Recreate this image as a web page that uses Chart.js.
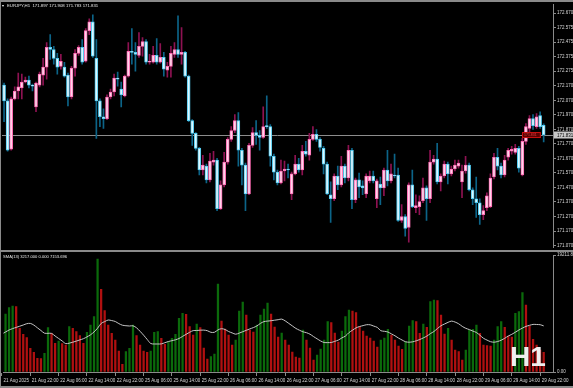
<!DOCTYPE html>
<html>
<head>
<meta charset="utf-8">
<script src="https://cdn.jsdelivr.net/npm/chart.js@4.4.1/dist/chart.umd.min.js"></script>
<style>
  html, body { margin: 0; padding: 0; background: #000; }
  #wrap { position: relative; width: 573px; height: 388px; overflow: hidden; background: #000; }
  #priceChart { position: absolute; left: 0; top: 0; }
  #volChart { position: absolute; left: 0; top: 251px; }
  .line { position: absolute; background: #8a8a8a; }
  .txt { position: absolute; font-family: 'Liberation Sans', Arial, sans-serif; color: #e6e6e6; white-space: nowrap; line-height: 1; }
</style>
</head>
<body>
<div id="wrap">
  <canvas id="priceChart" width="573" height="251"></canvas>
  <canvas id="volChart" width="573" height="137"></canvas>
  <div class="line" style="left:0;top:0;width:573px;height:2px"></div>
  <div class="line" style="left:0;top:0;width:1px;height:388px"></div>
  <div class="line" style="left:0;top:250px;width:573px;height:2px"></div>
  <div class="line" style="left:0;top:386px;width:573px;height:2px"></div>
  <div style="position:absolute;left:2px;top:4.5px;width:0;height:0;border-left:1.5px solid transparent;border-right:1.5px solid transparent;border-top:2.5px solid #fff"></div>
  <div class="txt" style="left:7px;top:3.6px;font-size:4.3px">EURJPY,H1&nbsp;&nbsp;171.897 171.908 171.783 171.831</div>
  <div class="txt" style="left:3px;top:255.3px;font-size:4.1px">SMA(13) 3217.000 0.000 7153.696</div>
  <div class="txt" style="left:510px;top:343px;font-size:28px;font-weight:bold;color:#eeeeee">H1</div>
</div>
<script>
// EURJPY H1, 21 Aug 2025 14:00 .. 29 Aug 2025 23:00
const open = [
  172.209, 172.175, 172.066, 171.733, 172.080, 172.134, 172.155, 172.196, 172.209, 172.175,
  172.025, 172.175, 172.243, 172.298, 172.434, 172.420, 172.359, 172.304, 172.298, 172.243,
  172.093, 172.291, 172.393, 172.434, 172.339, 172.550, 172.611, 172.359, 172.066, 171.957,
  171.944, 172.093, 172.127, 172.223, 172.148, 172.100, 172.236, 172.407, 172.400, 172.379,
  172.441, 172.475, 172.332, 172.332, 172.379, 172.332, 172.366, 172.277, 172.304, 172.386,
  172.420, 172.386, 172.400, 172.236, 171.930, 171.842, 171.739, 171.590, 171.617, 171.522,
  171.644, 171.658, 171.324, 171.488, 171.644, 171.801, 171.862, 171.930, 171.726, 171.624,
  171.426, 171.760, 171.848, 171.828, 171.814, 171.896, 171.889, 171.685, 171.576, 171.501,
  171.583, 171.597, 171.426, 171.563, 171.631, 171.590, 171.719, 171.692, 171.801, 171.835,
  171.801, 171.739, 171.631, 171.420, 171.392, 171.549, 171.488, 171.617, 171.535, 171.726,
  171.386, 171.522, 171.481, 171.426, 171.515, 171.549, 171.392, 171.494, 171.467, 171.590,
  171.515, 171.556, 171.556, 171.243, 171.270, 171.195, 171.488, 171.331, 171.338, 171.379,
  171.467, 171.392, 171.644, 171.665, 171.508, 171.549, 171.631, 171.563, 171.597, 171.617,
  171.508, 171.583, 171.624, 171.454, 171.392, 171.365, 171.283, 171.331, 171.338, 171.542,
  171.678, 171.617, 171.556, 171.678, 171.719, 171.712, 171.739, 171.556, 171.787, 171.876,
  171.944, 171.889, 171.964, 171.897
];
const high = [
  172.345, 172.189, 172.080, 172.093, 172.162, 172.257, 172.250, 172.230, 172.236, 172.182,
  172.196, 172.264, 172.359, 172.468, 172.522, 172.441, 172.393, 172.386, 172.332, 172.257,
  172.304, 172.420, 172.447, 172.488, 172.563, 172.631, 172.658, 172.488, 172.080, 172.012,
  172.107, 172.148, 172.250, 172.264, 172.196, 172.243, 172.468, 172.563, 172.468, 172.536,
  172.502, 172.488, 172.386, 172.441, 172.495, 172.461, 172.400, 172.332, 172.441, 172.468,
  172.652, 172.570, 172.407, 172.243, 171.937, 171.848, 171.746, 171.692, 171.631, 171.705,
  171.719, 171.671, 171.515, 171.712, 171.814, 171.889, 171.971, 171.985, 171.739, 171.637,
  171.774, 171.882, 171.930, 171.862, 172.025, 172.100, 171.903, 171.699, 171.590, 171.658,
  171.651, 171.631, 171.576, 171.692, 171.671, 171.760, 171.787, 171.842, 171.889, 171.869,
  171.814, 171.753, 171.644, 171.508, 171.563, 171.617, 171.685, 171.631, 171.760, 171.739,
  171.535, 171.569, 171.515, 171.563, 171.583, 171.583, 171.528, 171.542, 171.603, 171.726,
  171.631, 171.699, 171.603, 171.352, 171.283, 171.501, 171.590, 171.420, 171.413, 171.535,
  171.481, 171.726, 171.692, 171.774, 171.563, 171.651, 171.644, 171.617, 171.658, 171.658,
  171.624, 171.685, 171.637, 171.467, 171.542, 171.392, 171.345, 171.433, 171.563, 171.705,
  171.739, 171.637, 171.692, 171.739, 171.753, 171.767, 171.753, 171.808, 171.910, 171.964,
  171.971, 171.978, 171.991, 171.908
];
const low = [
  172.148, 171.923, 171.719, 171.726, 172.073, 172.080, 172.080, 172.189, 172.155, 172.134,
  171.991, 172.162, 172.175, 172.216, 172.352, 172.318, 172.250, 172.284, 172.230, 172.032,
  172.080, 172.236, 172.379, 172.318, 172.332, 172.522, 172.366, 171.808, 171.889, 171.876,
  171.937, 172.080, 172.100, 172.168, 172.025, 172.093, 172.230, 172.318, 172.270, 172.366,
  172.373, 172.318, 172.318, 172.325, 172.318, 172.325, 172.236, 172.230, 172.230, 172.366,
  172.366, 172.318, 172.230, 171.923, 171.760, 171.726, 171.556, 171.556, 171.501, 171.508,
  171.624, 171.311, 171.317, 171.474, 171.631, 171.787, 171.848, 171.617, 171.488, 171.311,
  171.420, 171.746, 171.767, 171.726, 171.808, 171.876, 171.617, 171.522, 171.488, 171.494,
  171.515, 171.535, 171.386, 171.556, 171.576, 171.556, 171.685, 171.658, 171.794, 171.787,
  171.719, 171.563, 171.420, 171.229, 171.379, 171.454, 171.474, 171.501, 171.515, 171.324,
  171.365, 171.399, 171.420, 171.399, 171.501, 171.501, 171.331, 171.352, 171.413, 171.481,
  171.501, 171.535, 171.236, 171.229, 171.134, 171.093, 171.331, 171.297, 171.283, 171.365,
  171.243, 171.365, 171.631, 171.494, 171.447, 171.535, 171.494, 171.549, 171.583, 171.603,
  171.399, 171.569, 171.447, 171.352, 171.263, 171.215, 171.249, 171.311, 171.331, 171.528,
  171.590, 171.535, 171.542, 171.658, 171.699, 171.699, 171.576, 171.549, 171.767, 171.848,
  171.869, 171.876, 171.876, 171.783
];
const close = [
  172.175, 172.066, 171.726, 172.080, 172.134, 172.162, 172.196, 172.209, 172.175, 172.168,
  172.189, 172.250, 172.298, 172.434, 172.420, 172.359, 172.298, 172.339, 172.236, 172.093,
  172.291, 172.393, 172.434, 172.332, 172.550, 172.611, 172.373, 172.066, 171.957, 171.944,
  172.093, 172.127, 172.223, 172.216, 172.107, 172.236, 172.407, 172.400, 172.386, 172.441,
  172.475, 172.332, 172.339, 172.379, 172.332, 172.366, 172.284, 172.304, 172.393, 172.420,
  172.386, 172.400, 172.236, 171.930, 171.842, 171.739, 171.590, 171.624, 171.522, 171.651,
  171.658, 171.324, 171.488, 171.644, 171.801, 171.862, 171.930, 171.726, 171.624, 171.426,
  171.760, 171.848, 171.828, 171.814, 171.889, 171.889, 171.685, 171.576, 171.501, 171.583,
  171.597, 171.590, 171.563, 171.631, 171.590, 171.719, 171.699, 171.801, 171.835, 171.801,
  171.746, 171.631, 171.426, 171.392, 171.549, 171.488, 171.617, 171.535, 171.726, 171.386,
  171.522, 171.474, 171.467, 171.549, 171.549, 171.515, 171.515, 171.467, 171.590, 171.515,
  171.563, 171.549, 171.243, 171.270, 171.188, 171.488, 171.338, 171.345, 171.372, 171.467,
  171.392, 171.644, 171.665, 171.508, 171.549, 171.631, 171.563, 171.597, 171.624, 171.637,
  171.583, 171.624, 171.454, 171.392, 171.365, 171.283, 171.311, 171.413, 171.535, 171.678,
  171.617, 171.556, 171.658, 171.726, 171.733, 171.739, 171.603, 171.787, 171.889, 171.944,
  171.896, 171.957, 171.889, 171.831
];
const volume = [
  6355, 9524, 10558, 10837, 10722, 7176, 6190, 5632, 3892, 3235,
  2250, 2184, 3071, 7274, 6355, 4713, 5090, 4647, 4433, 7438,
  7176, 6617, 5960, 4713, 6519, 7717, 9080, 18555, 13579, 10065,
  7717, 6355, 5254, 3448, 1264, 3333, 3892, 7717, 5960, 4433,
  3448, 3235, 3448, 6519, 6650, 5534, 4548, 4975, 5534, 6190,
  8818, 9639, 9474, 7438, 6075, 7882, 7274, 3941, 2135, 2512,
  2956, 14450, 8374, 7061, 6075, 4433, 5254, 10016, 11494, 9359,
  6896, 6568, 7717, 9359, 10345, 11330, 9524, 7389, 5747, 6404,
  5254, 4433, 3284, 2463, 2299, 6896, 5254, 3941, 1970, 2791,
  3777, 5254, 8259, 8095, 6404, 4926, 6732, 9080, 10180, 10016,
  9737, 7438, 6732, 5911, 5583, 5090, 4105, 5254, 5583, 7011,
  6075, 5254, 4269, 3727, 4975, 7553, 8423, 8259, 6355, 7882,
  7340, 11543, 11822, 11707, 9359, 6240, 7176, 5254, 3612, 3333,
  1970, 3612, 6896, 7011, 7717, 6355, 4433, 4318, 4269, 5254,
  7438, 8259, 7340, 5911, 5747, 9639, 9901, 13021, 11001, 7553,
  5369, 4433, 3612, 3217
];
const volumeSma = [
  6240, 6568, 6896, 7126, 7323, 7520, 7717, 7931, 7980, 7701,
  7258, 6814, 6371, 6355, 6338, 5911, 5501, 5090, 4663, 4729,
  4893, 5074, 5271, 5468, 5763, 6108, 6584, 7192, 7980, 8276,
  8538, 8440, 8292, 7947, 7685, 7602, 7553, 7586, 7258, 6683,
  6043, 5353, 4680, 4598, 4598, 4614, 4811, 5008, 5139, 5287,
  5501, 5846, 6190, 6519, 6798, 6814, 6864, 6880, 6781, 6519,
  6519, 6913, 7110, 6979, 6650, 6420, 6207, 6387, 6617, 6847,
  7077, 7290, 7570, 7980, 8276, 8358, 8423, 8506, 8588, 8686,
  8391, 7980, 7570, 7159, 6864, 6601, 6453, 6207, 5813, 5451,
  5090, 4844, 4827, 4844, 5041, 5238, 5599, 5895, 6469, 6864,
  7241, 7471, 7619, 7767, 7750, 7537, 7323, 6781, 6683, 6568,
  6256, 5944, 5566, 5254, 4959, 4893, 4959, 5123, 5337, 5599,
  5895, 6305, 6650, 7143, 7602, 7882, 8161, 8358, 8194, 7914,
  7488, 7176, 6962, 6716, 6486, 6026, 5534, 5238, 4975, 4893,
  5008, 5222, 5534, 5911, 6190, 6535, 6896, 7208, 7488, 7668,
  7816, 7800, 7767, 7570
];
const timeLabels = ['21 Aug 2025', '21 Aug 22:00', '22 Aug 06:00', '22 Aug 14:00', '22 Aug 22:00',
  '25 Aug 06:00', '25 Aug 14:00', '25 Aug 22:00', '26 Aug 06:00', '26 Aug 14:00', '26 Aug 22:00',
  '27 Aug 06:00', '27 Aug 14:00', '27 Aug 22:00', '28 Aug 06:00', '28 Aug 14:00', '28 Aug 22:00',
  '29 Aug 06:00', '29 Aug 14:00', '29 Aug 22:00'];
const barsPerLabel = 8;
const priceTicks = [172.670, 172.570, 172.470, 172.370, 172.270, 172.170, 172.070, 171.970, 171.870,
  171.770, 171.670, 171.570, 171.470, 171.370, 171.270, 171.170, 171.070];
const priceTickLabels = ['172.670', '172.575', '172.475', '172.375', '172.275', '172.170', '172.070',
  '171.970', '171.870', '171.770', '171.670', '171.570', '171.470', '171.370', '171.270', '171.170', '171.070'];
const volTicks = [19211.85, 0];
const volTickLabels = ['19211.85', '0.00'];

const xMin = 0.42, xMax = 155.63;
const axisGray = '#8a8a8a';
const labelColor = '#d8d8d8';
const tinyFont = { family: "'Liberation Sans', Arial, sans-serif", size: 4.5 };

const isBull = i => close[i] >= open[i];
const last = close.length - 1;

const bidLine = {
  id: 'bidLine',
  beforeDatasetsDraw(chart) {
    const { ctx, chartArea, scales } = chart;
    const y = Math.round(scales.y.getPixelForValue(close[last])) + 0.5;
    ctx.save();
    ctx.strokeStyle = '#8c8c8c';
    ctx.lineWidth = 1;
    ctx.beginPath();
    ctx.moveTo(chartArea.left, y);
    ctx.lineTo(chartArea.right, y);
    ctx.stroke();
    ctx.restore();
  },
  afterDatasetsDraw(chart) {
    const { ctx, scales } = chart;
    const y = scales.y.getPixelForValue(close[last]);
    // small red trade tag near the last bars
    const x1 = scales.x.getPixelForValue(146.9), x2 = scales.x.getPixelForValue(152.2);
    ctx.save();
    ctx.fillStyle = '#5c0000';
    ctx.strokeStyle = '#c81010';
    ctx.lineWidth = 1;
    ctx.fillRect(x1, y - 3, x2 - x1, 6);
    ctx.strokeRect(x1 + 0.5, y - 2.5, x2 - x1 - 1, 5);
    ctx.fillStyle = '#e04040';
    ctx.font = "3.5px 'Liberation Sans', Arial, sans-serif";
    ctx.textBaseline = 'middle';
    ctx.fillText(close[last].toFixed(3), x1 + 2, y + 0.3);
    ctx.restore();
  },
  afterDraw(chart) {
    const { ctx, chartArea, scales } = chart;
    const y = scales.y.getPixelForValue(close[last]);
    ctx.save();
    ctx.fillStyle = '#c8c8c8';
    ctx.fillRect(chartArea.right + 1, y - 3.5, 19, 7);
    ctx.fillStyle = '#000';
    ctx.font = "4.5px 'Liberation Sans', Arial, sans-serif";
    ctx.textBaseline = 'middle';
    ctx.fillText(close[last].toFixed(3), chartArea.right + 4, y + 0.3);
    ctx.restore();
  }
};

new Chart(document.getElementById('priceChart'), {
  type: 'bar',
  data: {
    datasets: [
      {
        label: 'body',
        order: 1,
        data: open.map((o, i) => ({ x: i, y: [o, close[i]] })),
        barThickness: 3,
        minBarLength: 1,
        grouped: false,
        borderWidth: 1,
        borderSkipped: false,
        backgroundColor: c => isBull(c.dataIndex) ? '#ffd4ea' : '#dff7ff',
        borderColor: c => isBull(c.dataIndex) ? '#ff6cb4' : '#52cdf2'
      },
      {
        label: 'wick',
        order: 2,
        data: open.map((o, i) => ({ x: i, y: [low[i], high[i]] })),
        barThickness: 1,
        grouped: false,
        backgroundColor: c => isBull(c.dataIndex) ? '#8e1252' : '#0c6488'
      }
    ]
  },
  options: {
    responsive: false,
    animation: false,
    layout: { padding: { top: 4, bottom: 1, left: 2, right: 0 } },
    plugins: { legend: { display: false }, tooltip: { enabled: false } },
    scales: {
      x: { type: 'linear', min: xMin, max: xMax, offset: false, display: false, grid: { offset: false } },
      y: {
        position: 'right',
        min: 171.058,
        max: 172.733,
        afterBuildTicks: s => { s.ticks = priceTicks.map(v => ({ value: v })); },
        afterFit: s => { s.width = 20; },
        ticks: {
          autoSkip: false,
          padding: 1,
          color: labelColor,
          font: tinyFont,
          callback: (v, i) => priceTickLabels[i]
        },
        grid: { drawOnChartArea: false, tickLength: 3, color: axisGray },
        border: { color: axisGray }
      }
    }
  },
  plugins: [bidLine]
});

new Chart(document.getElementById('volChart'), {
  type: 'bar',
  data: {
    datasets: [
      {
        type: 'line',
        label: 'SMA(13)',
        order: 0,
        data: volumeSma.map((v, i) => ({ x: i, y: v })),
        borderColor: '#c4c4c4',
        borderWidth: 1,
        pointRadius: 0,
        tension: 0.3
      },
      {
        label: 'volume',
        order: 1,
        data: volume.map((v, i) => ({ x: i, y: v })),
        barThickness: 1.6,
        grouped: false,
        backgroundColor: c => (c.dataIndex === 0 || volume[c.dataIndex] > volume[c.dataIndex - 1]) ? '#0b6a0b' : '#b01010'
      }
    ]
  },
  options: {
    responsive: false,
    animation: false,
    layout: { padding: { top: 4, bottom: 0, left: 2, right: 0 } },
    plugins: { legend: { display: false }, tooltip: { enabled: false } },
    scales: {
      x: {
        type: 'linear',
        min: xMin,
        max: xMax,
        offset: false,
        afterBuildTicks: s => { s.ticks = timeLabels.map((t, k) => ({ value: k * barsPerLabel })); },
        afterFit: s => { s.height = 16; },
        ticks: {
          autoSkip: false,
          maxRotation: 0,
          minRotation: 0,
          align: 'start',
          labelOffset: 1.5,
          padding: 2,
          color: labelColor,
          font: tinyFont,
          callback: (v, i) => timeLabels[i]
        },
        grid: { drawOnChartArea: false, tickLength: 4, color: axisGray, offset: false },
        border: { color: axisGray }
      },
      y: {
        position: 'right',
        min: 0,
        max: 19211.85,
        afterBuildTicks: s => { s.ticks = volTicks.map(v => ({ value: v })); },
        afterFit: s => { s.width = 20; },
        ticks: {
          autoSkip: false,
          padding: 1,
          color: labelColor,
          font: tinyFont,
          callback: (v, i) => volTickLabels[i]
        },
        grid: { drawOnChartArea: false, tickLength: 3, color: axisGray },
        border: { color: axisGray }
      }
    }
  }
});
</script>
</body>
</html>
